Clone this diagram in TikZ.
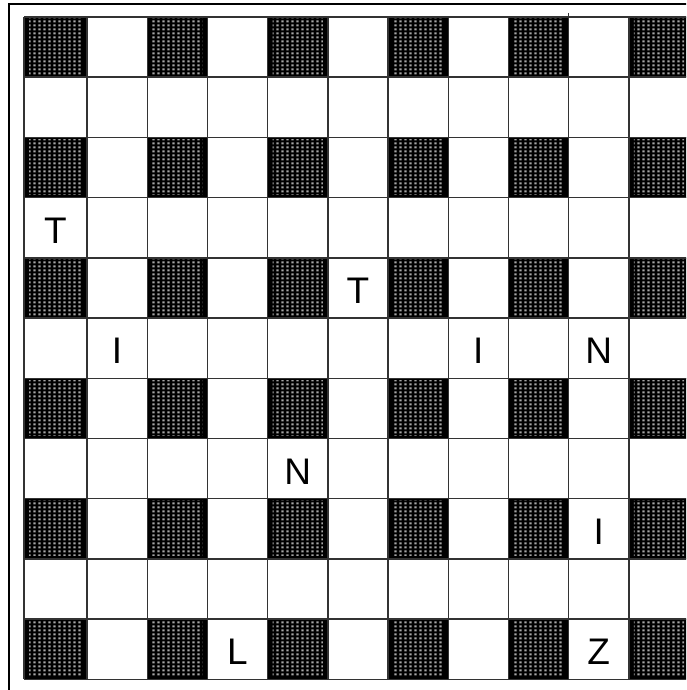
\documentclass[tikz,border=0pt]{standalone}
\usepackage{fontspec}
\setmainfont{Liberation Sans}
\usetikzlibrary{patterns.meta}

% dotted texture of the dark squares
\tikzdeclarepattern{
  name=cellDots,
  type=uncolored,
  bounding box={(0pt,0pt) and (5.4pt,3.6pt)},
  tile size={(5.4pt,3.6pt)},
  code={\fill (1.4pt,0.7pt) rectangle (4.0pt,2.9pt);}
}

\begin{document}
\begin{tikzpicture}[x=1pt,y=-1pt,
    gridline/.style={draw=black!80, line width=1.4pt},
    frame/.style={draw=black, line width=2pt},
    darkcell/.style={fill=black},
    dotcell/.style={pattern=cellDots, pattern color=black!35},
    letter/.style={font=\fontsize{37}{40}\selectfont, inner sep=0pt}]
  \useasboundingbox (0,0) rectangle (686,690);
  \clip (0,0) rectangle (686,690);

  % dark squares: odd rows, odd columns
  \foreach \r in {0,2,...,10} {
    \foreach \c in {1,3,...,11} {
      \pgfmathsetmacro{\xa}{ifthenelse(\c==1,24,87+(\c-2)*60.2)}
      \pgfmathsetmacro{\xb}{87+(\c-1)*60.2}
      \pgfmathsetmacro{\ya}{17+\r*60.2}
      \pgfmathsetmacro{\yb}{17+(\r+1)*60.2}
      \fill[darkcell] (\xa,\ya) rectangle (\xb,\yb);
      \fill[dotcell] (\xa+5,\ya+2) rectangle (\xb-5,\yb-3);
    }
  }

  % grid
  \foreach \r in {0,...,11} {
    \pgfmathsetmacro{\yy}{17+\r*60.2}
    \draw[gridline] (24,\yy) -- (690,\yy);
  }
  \draw[gridline] (24,17) -- (24,679.2);
  \foreach \c in {1,...,10} {
    \pgfmathsetmacro{\xx}{87+(\c-1)*60.2}
    \draw[gridline] (\xx,17) -- (\xx,679.2);
  }
  \draw[gridline] (568.6,13) -- (568.6,17);

  % outer frame
  \draw[frame] (690,4) -- (9,4) -- (9,694);

  % letters
  \foreach \r/\c/\t in {4/1/T, 5/6/T, 6/2/I, 6/8/I, 6/10/N, 8/5/N, 9/10/I, 11/4/L, 11/10/Z} {
    \pgfmathsetmacro{\xx}{ifthenelse(\c==1,55.5,87+(\c-1.5)*60.2)}
    \pgfmathsetmacro{\yy}{17+(\r-0.5)*60.2+3}
    \node[letter] (l-\r-\c) at (\xx,\yy) {\t};
  }
\end{tikzpicture}
\end{document}
